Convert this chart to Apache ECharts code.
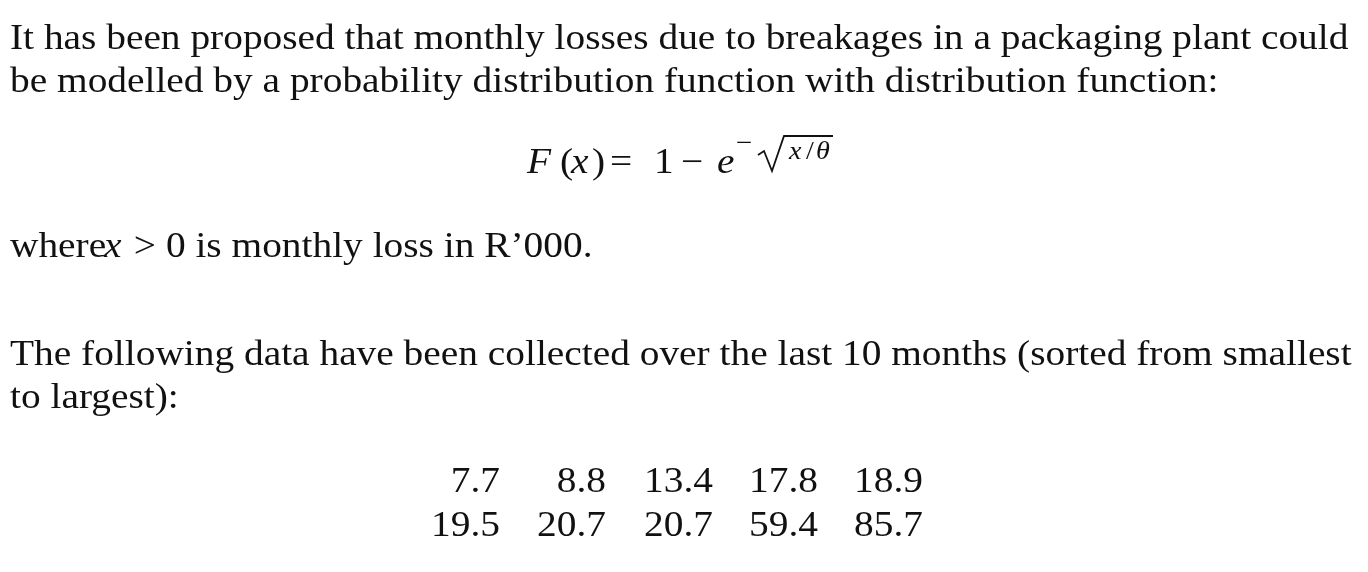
<!DOCTYPE html>
<html><head><meta charset="utf-8">
<script src="https://cdn.jsdelivr.net/npm/echarts@6/dist/echarts.min.js"></script>
<style>html,body{margin:0;background:#fff}#c{width:1368px;height:572px}</style>
</head><body><div id="c"></div>
<script>
const paragraphLines = [
  "It has been proposed that monthly losses due to breakages in a packaging plant could",
  "be modelled by a probability distribution function with distribution function:"
];
const whereLine = ["where ", "x", " > 0 is monthly loss in R\u2019000."];
const dataIntroLines = [
  "The following data have been collected over the last 10 months (sorted from smallest",
  "to largest):"
];
const row1 = ["7.7", "8.8", "13.4", "17.8", "18.9"];
const row2 = ["19.5", "20.7", "20.7", "59.4", "85.7"];

const FONT = '"Liberation Serif","DejaVu Serif",serif';
const FS = 35, SX = 1.125;
const g = [];
function txt(t, x, y, opt) {
  opt = opt || {};
  g.push({type:'text', x: x, y: y, scaleX: opt.sx || SX, style: {
    text: t, font: (opt.italic ? 'italic ' : '') + (opt.size || FS) + 'px ' + FONT,
    fill: '#111', textAlign: opt.align || 'left'
  }});
}
paragraphLines.forEach((l, i) => txt(l, 10, 22 + i * 43));
// formula
txt("F", 527, 146, {italic:true});
txt("(", 560, 146); txt("x", 571, 146, {italic:true}); txt(")", 592, 146);
txt("=", 610, 146); txt("1", 654, 146); txt("\u2212", 681, 146); txt("e", 717, 146, {italic:true});
txt("\u2212", 736, 131, {size:26});
g.push({type:'polyline', shape:{points:[[758,155],[764,151],[772,171],[784,136],[833,136]]}, style:{stroke:'#111', lineWidth:1.8, fill:null}});
txt("x", 789, 140, {italic:true, size:25});
txt("/", 806, 140, {size:25});
txt("\u03b8", 816, 140, {italic:true, size:25});
// where line
txt(whereLine[0], 10, 230); txt(whereLine[1], 104, 230, {italic:true}); txt(whereLine[2], 124, 230);
dataIntroLines.forEach((l, i) => txt(l, 10, 338 + i * 43));
const colX = [500, 606, 713, 818, 923];
row1.forEach((v, i) => txt(v, colX[i], 465, {align:'right'}));
row2.forEach((v, i) => txt(v, colX[i], 509, {align:'right'}));

const chart = echarts.init(document.getElementById('c'));
chart.setOption({backgroundColor:'#fff', graphic: g});
</script></body></html>
